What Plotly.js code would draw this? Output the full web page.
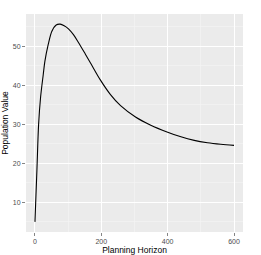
<!DOCTYPE html>
<html>
<head>
<meta charset="utf-8">
<script src="https://cdn.plot.ly/plotly-3.0.1.min.js"></script>
<style>html,body{margin:0;padding:0;background:#fff;}#chart{width:261px;height:255px;}</style>
</head>
<body>
<div id="chart"></div>
<script>
const horizon = [0, 6, 11, 17, 25, 30, 40, 51, 64, 76, 88, 101, 116, 131, 152, 167, 197, 227, 258, 303, 349, 400, 440, 480, 520, 560, 600];
const popValue = [5, 18.5, 30, 37, 42.8, 46.2, 50.5, 53.9, 55.5, 55.7, 55.3, 54.5, 53.0, 51.0, 48.0, 45.8, 41.4, 37.7, 34.8, 31.9, 29.8, 28.0, 26.8, 25.9, 25.3, 24.9, 24.6];
const xTicks = [0, 200, 400, 600];
const yTicks = [10, 20, 30, 40, 50];

const trace = {
  x: horizon, y: popValue, type: 'scatter', mode: 'lines',
  line: {color: '#000000', width: 1.1, shape: 'spline', smoothing: 0.9},
  hoverinfo: 'none'
};
const fontFam = 'Liberation Sans, Arial, sans-serif';
const layout = {
  width: 261, height: 255,
  margin: {l: 26, r: 18, t: 14, b: 23},
  paper_bgcolor: '#ffffff', plot_bgcolor: '#EBEBEB',
  showlegend: false,
  xaxis: {
    range: [-27, 627], tickvals: xTicks, ticktext: xTicks.map(String),
    showgrid: true, gridcolor: '#ffffff', gridwidth: 1,
    minor: {showgrid: true, tickvals: [100, 300, 500], gridcolor: '#F5F5F5', gridwidth: 0.6, ticks: ''},
    zeroline: false, showline: false,
    ticks: 'outside', ticklen: 3, tickwidth: 0.6, tickcolor: '#333333',
    tickfont: {family: fontFam, size: 7, color: '#4D4D4D'},
    title: {text: 'Planning Horizon', font: {family: fontFam, size: 8.5, color: '#000'}, standoff: 3},
    automargin: false
  },
  yaxis: {
    range: [2.4, 58.3], tickvals: yTicks, ticktext: yTicks.map(String),
    showgrid: true, gridcolor: '#ffffff', gridwidth: 1,
    minor: {showgrid: true, tickvals: [5, 15, 25, 35, 45, 55], gridcolor: '#F5F5F5', gridwidth: 0.6, ticks: ''},
    zeroline: false, showline: false,
    ticks: 'outside', ticklen: 3, tickwidth: 0.6, tickcolor: '#333333',
    tickfont: {family: fontFam, size: 7, color: '#4D4D4D'},
    title: {text: 'Population Value', font: {family: fontFam, size: 8.5, color: '#000'}, standoff: 3},
    automargin: false
  }
};
Plotly.newPlot('chart', [trace], layout, {displayModeBar: false, staticPlot: true});
</script>
</body>
</html>
